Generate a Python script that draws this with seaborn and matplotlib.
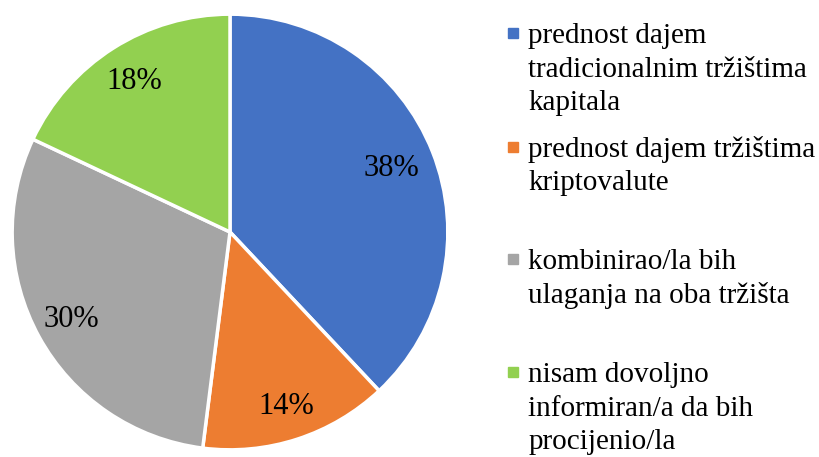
import matplotlib
matplotlib.use('Agg')
import matplotlib.pyplot as plt
import seaborn as sns
from matplotlib.lines import Line2D

sns.set_theme(style='white')
plt.rcParams['font.family'] = ['Liberation Serif', 'DejaVu Serif']

labels = ['prednost dajem\ntradicionalnim tržištima\nkapitala',
          'prednost dajem tržištima\nkriptovalute',
          'kombinirao/la bih\nulaganja na oba tržišta',
          'nisam dovoljno\ninformiran/a da bih\nprocijenio/la']
shares = [38, 14, 30, 18]
colors = ['#4472C4', '#ED7D31', '#A5A5A5', '#92D050']
label_radius = [0.795, 0.84, 0.83, 0.82]

W, H = 819, 457
fig = plt.figure(figsize=(W / 100, H / 100), dpi=100)
ax = fig.add_axes([10 / W, 5 / H, 440 / W, 440 / H])

wedges, texts, autotexts = ax.pie(shares, colors=colors, startangle=90, counterclock=False,
                                  autopct='%d%%', pctdistance=0.8, radius=1,
                                  wedgeprops=dict(edgecolor='white', linewidth=2.5),
                                  textprops=dict(fontsize=22, color='black'))
for t, r in zip(autotexts, label_radius):
    x, y = t.get_position()
    t.set_position((x * r / 0.8, y * r / 0.8))
ax.set_xlim(-1.01, 1.01)
ax.set_ylim(-1.01, 1.01)
ax.set_aspect('equal')
ax.axis('off')

# legend: one block per category, marker beside the first line, evenly spaced slots
for i, (lab, c) in enumerate(zip(labels, colors)):
    lines = lab.split('\n')
    hs = [Line2D([], [], marker='s', linestyle='none', markersize=7.5, color=c)]
    hs += [Line2D([], [], linestyle='none') for _ in lines[1:]]
    top = 23 + i * 113
    fig.legend(hs, lines, loc='upper left', bbox_to_anchor=(508 / W, 1 - top / H),
               frameon=False, fontsize=21, handlelength=0.36, handletextpad=0.34,
               labelspacing=0.24, borderpad=0, borderaxespad=0, labelcolor='black')

fig.savefig('out.png', dpi=100)
